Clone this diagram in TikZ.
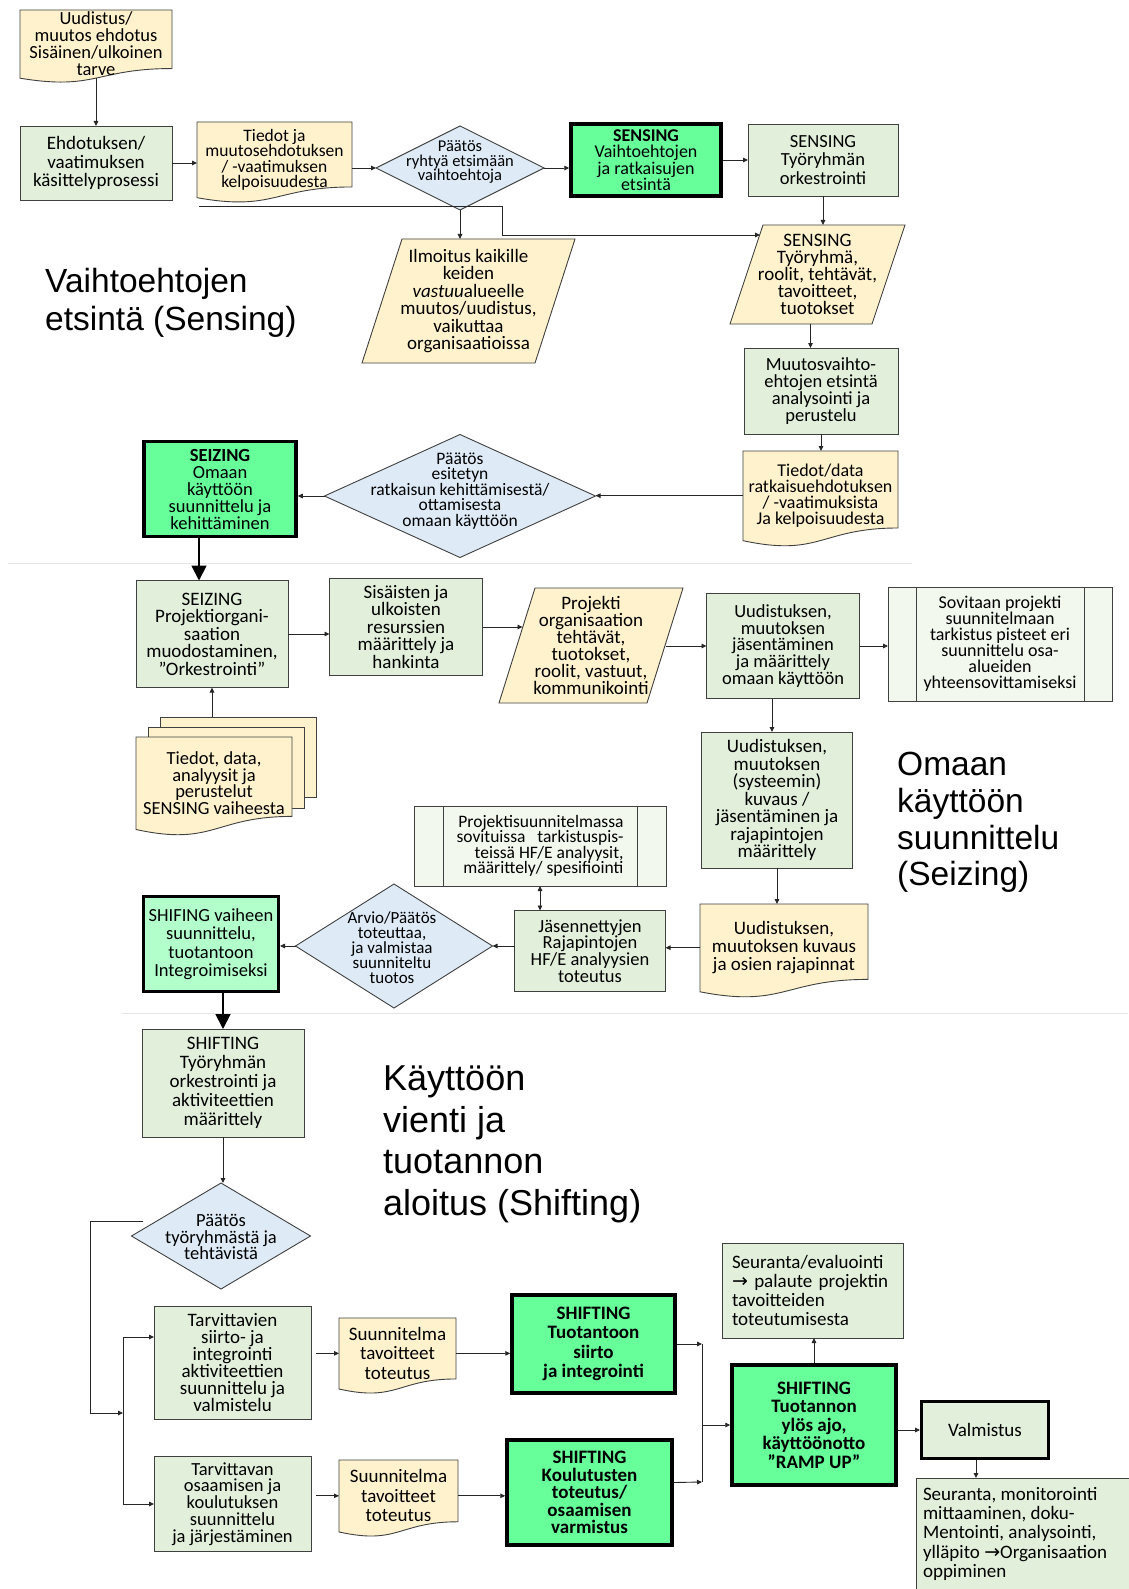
\documentclass[tikz,border=0pt]{standalone}
\usepackage{fontspec}
\setmainfont{Carlito}
\newfontfamily\lblfont{Liberation Sans}
\newfontfamily\arrowfnt{DejaVu Sans}
\usetikzlibrary{arrows.meta,shapes.geometric,calc}
\definecolor{gbox}{HTML}{E2EFDA}
\definecolor{ydoc}{HTML}{FFF2CC}
\definecolor{bdia}{HTML}{DEEBF7}
\definecolor{bgreen}{HTML}{66FF99}
\definecolor{lgreen}{HTML}{B3FFCC}
\definecolor{ppfill}{HTML}{F2F8EE}
\definecolor{edge}{HTML}{404040}
\definecolor{lnk}{HTML}{262626}
\definecolor{sepc}{HTML}{E6E6E6}
\tikzset{
 fsz/.style 2 args={font=\fontsize{#1}{#2}\selectfont},
 bfsz/.style 2 args={font=\fontsize{#1}{#2}\selectfont\bfseries},
 txt/.style={align=center, inner sep=0pt, outer sep=0pt, fsz={19}{17.5}},
 box/.style={txt, draw=edge, fill=gbox, line width=0.9pt},
 bbox/.style={txt, draw=black, fill=bgreen, line width=3.5pt, outer sep=1.75pt},
 ppbox/.style={txt, draw=edge, fill=ppfill, line width=0.9pt},
 dia/.style={diamond, draw=edge, fill=bdia, line width=0.9pt, inner sep=0pt, outer sep=0pt},
 docshape/.style={draw=edge, fill=ydoc, line width=0.9pt},
 innerline/.style={draw=edge, line width=0.9pt},
 arr/.style={draw=lnk, line width=0.9pt, -{Triangle[length=5pt,width=4.5pt]}},
 darr/.style={draw=lnk, line width=0.9pt, {Triangle[length=5pt,width=4.5pt]}-{Triangle[length=5pt,width=4.5pt]}},
 plain/.style={draw=lnk, line width=0.9pt},
 bigarr/.style={draw=black, line width=1.8pt, -{Triangle[length=15pt,width=15pt]}},
 sep/.style={draw=sepc, line width=1pt},
 lbl/.style={font=\lblfont\fontsize{33.5}{37.5}\selectfont, align=left, inner sep=0pt, anchor=north west},
}
% document shape: [opts]{name}{x1}{y1}{x2}{y2}{text}
\newcommand{\docnode}[7][]{%
  \pgfmathsetmacro{\dw}{#5-#3}%
  \pgfmathsetmacro{\dh}{0.93*(#6-#4)}%
  \path[docshape] (#3,#4) -- (#5,#4) -- (#5,{#4+0.802*(#6-#4)})
    .. controls ({0.5*(#3+#5)},{#4+0.802*(#6-#4)}) and ({0.5*(#3+#5)},{#4+1.107*(#6-#4)}) ..
    (#3,{#4+0.934*(#6-#4)}) -- cycle;
  \node[txt, minimum width=\dw pt, minimum height=\dh pt, #1] (#2) at ({0.5*(#3+#5)},{#4+0.465*(#6-#4)}) {#7};}
% parallelogram: [opts]{name}{x1}{y1}{x2}{y2}{slant}{text}
\newcommand{\paranode}[8][]{%
  \pgfmathsetmacro{\pw}{#5-#3-#7}%
  \pgfmathsetmacro{\ph}{#6-#4}%
  \path[docshape] ({#3+#7},#4) -- (#5,#4) -- ({#5-#7},#6) -- (#3,#6) -- cycle;
  \node[txt, minimum width=\pw pt, minimum height=\ph pt, #1] (#2) at ({0.5*(#3+#5)},{0.5*(#4+#6)}) {#8};}
\begin{document}
\begin{tikzpicture}[x=1pt,y=-1pt]
\useasboundingbox (0,0) rectangle (1128,1589);
\fill[white] (0,0) rectangle (1128,1589);

% ---------------- SENSING ----------------
\docnode[fsz={18.5}{17}]{d1}{20}{10}{172}{83}{Uudistus/\\muutos ehdotus\\Sisäinen/ulkoinen\\tarve}
\node[box, minimum width=152pt, minimum height=74pt, fsz={19}{18.5}] (b2) at (96,163) {Ehdotuksen/\\vaatimuksen\\käsittelyprosessi};
\draw[arr] (d1.south) -- (b2.north);

\docnode[fsz={17.5}{15.5}]{d3}{197}{122}{352}{203}{Tiedot ja\\muutosehdotuksen\\/ -vaatimuksen\\kelpoisuudesta}
\draw[arr] (b2.east) -- (b2.east -| d3.west);

\node[dia, minimum width=168pt, minimum height=84pt] (p1) at (460,168) {};
\node[txt, fsz={16.5}{14.5}] (p1t) at (460,162) {Päätös\\ryhtyä etsimään\\vaihtoehtoja};
\draw[arr] (d3.east |- p1.west) -- (p1.west);

\node[bbox, minimum width=150pt, minimum height=72pt, fsz={18}{16.5}] (sb) at (646,160) {\textbf{SENSING}\\Vaihtoehtojen\\ja ratkaisujen\\etsintä};
\draw[arr] (p1.east) -- (p1.east -| sb.west);

\node[box, minimum width=150pt, minimum height=72pt, fsz={18.5}{18.5}] (so) at (823,160) {SENSING\\Työryhmän\\orkestrointi};
\draw[arr] (sb.east) -- (so.west);

\paranode[fsz={19}{17}]{ps}{730}{225}{905}{324}{33}{SENSING\\Työryhmä,\\roolit, tehtävät,\\tavoitteet,\\tuotokset}
\draw[arr] (so.south) -- (so.south |- ps.north);

\coordinate (c1) at (199,206);
\coordinate (c1e) at (760,235);
\draw[arr] (c1) -- (502,206) -- (502,235) -- (c1e);

\paranode[fsz={19}{17.5}]{pi}{362}{239}{575}{363}{40}{Ilmoitus kaikille\\keiden\\\textit{vastuu}alueelle\\muutos/uudistus,\\vaikuttaa\\organisaatioissa}
\draw[arr] (p1.south) -- (p1.south |- pi.north);

\node[lbl, font=\lblfont\fontsize{33.5}{38}\selectfont] (l1) at (45,268) {Vaihtoehtojen\\etsintä (Sensing)};

\node[box, minimum width=154pt, minimum height=86pt, fsz={18.5}{16.8}] (mv) at (821,391) {Muutosvaihto-\\ehtojen etsintä\\analysointi ja\\perustelu};
\draw[arr] ([xshift=-7pt]ps.south) -- ([xshift=-7pt]ps.south |- mv.north);

\docnode[fsz={18}{16}]{t2}{743}{451}{898}{547}{Tiedot/data\\ratkaisuehdotuksen\\/ -vaatimuksista\\Ja kelpoisuudesta}
\draw[arr] (mv.south) -- (mv.south |- t2.north);

\node[dia, minimum width=271pt, minimum height=123pt] (p2) at (460,496) {};
\node[txt, fsz={17.5}{15.5}] (p2t) at (460,491) {Päätös\\esitetyn\\ratkaisun kehittämisestä/\\ottamisesta\\omaan käyttöön};
\draw[arr] (t2.west) -- (t2.west -| p2.east);

\node[bbox, minimum width=152pt, minimum height=95pt, fsz={18.5}{17}] (sz) at (220,489) {\textbf{SEIZING}\\Omaan\\käyttöön\\suunnittelu ja\\kehittäminen};
\draw[arr] (p2.west) -- (p2.west -| sz.east);

\draw[sep] (8,563) -- (912,563);

% ---------------- SEIZING ----------------
\node[box, minimum width=152pt, minimum height=107pt, fsz={19}{17.5}] (s2) at (212,634) {SEIZING\\Projektiorgani-\\saation\\muodostaminen,\\”Orkestrointi”};
\draw[bigarr] ([xshift=-21pt]sz.south) -- ([xshift=-21pt]sz.south |- s2.north);

\node[box, minimum width=153pt, minimum height=97pt, fsz={19}{17.5}] (rs) at (406,627) {Sisäisten ja\\ulkoisten\\resurssien\\määrittely ja\\hankinta};
\draw[arr] (s2.east) -- (s2.east -| rs.west);

\paranode[fsz={19}{17}]{pp}{499}{588}{683}{703}{36}{Projekti\\organisaation\\tehtävät,\\tuotokset,\\roolit, vastuut,\\kommunikointi}
\draw[arr] (rs.east) -- ($(rs.east)+(40,0)$);

\node[box, minimum width=153pt, minimum height=105pt, fsz={18.5}{16.8}] (u1) at (783,646) {Uudistuksen,\\muutoksen\\jäsentäminen\\ja määrittely\\omaan käyttöön};
\draw[arr] ($(u1.west)+(-41,0)$) -- (u1.west);

\node[ppbox, minimum width=224pt, minimum height=114pt, fsz={18}{16}] (sv) at (1000,644) {Sovitaan projekti\\suunnitelmaan\\tarkistus pisteet eri\\suunnittelu osa-\\alueiden\\yhteensovittamiseksi};
\draw[innerline] ([xshift=28pt]sv.north west) -- ([xshift=28pt]sv.south west);
\draw[innerline] ([xshift=-28pt]sv.north east) -- ([xshift=-28pt]sv.south east);
\draw[arr] (u1.east) -- (u1.east -| sv.west);

\node[box, minimum width=151pt, minimum height=136pt, fsz={19}{17.5}] (u2) at (777,800) {Uudistuksen,\\muutoksen\\(systeemin)\\kuvaus /\\jäsentäminen ja\\rajapintojen\\määrittely};
\draw[arr] ([xshift=-11pt]u1.south) -- ([xshift=-11pt]u1.south |- u2.north);

\docnode[fsz={19}{18}]{u3}{700}{904}{868}{998}{Uudistuksen,\\muutoksen kuvaus\\ja osien rajapinnat}
\draw[arr] (u2.south) -- (u2.south |- u3.north);

\node[box, minimum width=151pt, minimum height=81pt, fsz={18.5}{16.8}] (js) at (590,951) {Jäsennettyjen\\Rajapintojen\\HF/E analyysien\\toteutus};
\draw[arr] (u3.west) -- (u3.west -| js.east);

\node[ppbox, align=right, minimum width=252pt, minimum height=80pt, fsz={17.5}{15.5}] (pr) at (540,846) {Projektisuunnitelmassa\\sovituissa\ \ \ tarkistuspis-\\teissä HF/E analyysit,\\määrittely/ spesifiointi};
\draw[innerline] ([xshift=29pt]pr.north west) -- ([xshift=29pt]pr.south west);
\draw[innerline] ([xshift=-29pt]pr.north east) -- ([xshift=-29pt]pr.south east);
\draw[darr] (pr.south) -- (pr.south |- js.north);

\node[dia, minimum width=197pt, minimum height=124pt] (p3) at (394,946) {};
\node[txt, fsz={17}{15}] (p3t) at (392,948) {Arvio/Päätös\\toteuttaa,\\ja valmistaa\\suunniteltu\\tuotos};
\draw[arr] (js.west |- p3.east) -- (p3.east);

\node[box, fill=lgreen, draw=black, line width=3pt, outer sep=1.5pt, minimum width=135pt, minimum height=95pt, fsz={18.5}{18.5}] (sf) at (211,944) {SHIFING vaiheen\\suunnittelu,\\tuotantoon\\Integroimiseksi};
\draw[arr] (p3.west) -- (p3.west -| sf.east);

\node[draw=edge, fill=ydoc, line width=0.9pt, inner sep=0pt, minimum width=156pt, minimum height=80pt] (stkb) at (238,757) {};
\node[draw=edge, fill=ydoc, line width=0.9pt, inner sep=0pt, minimum width=156pt, minimum height=81pt] (stkm) at (226,767.5) {};
\docnode[fsz={18.5}{16.5}]{stk}{136}{737}{292}{836}{Tiedot, data,\\analyysit ja\\perustelut\\SENSING vaiheesta}
\draw[arr] (stkb.north -| s2.south) -- (s2.south);

\node[lbl, font=\lblfont\fontsize{33.5}{36.7}\selectfont] (l2) at (897,752) {Omaan\\käyttöön\\suunnittelu\\(Seizing)};

\draw[sep] (122,1013) -- (1128,1013);

% ---------------- SHIFTING ----------------
\node[box, minimum width=162pt, minimum height=108pt, fsz={19}{19}] (h0) at (223,1083) {SHIFTING\\Työryhmän\\orkestrointi ja\\aktiviteettien\\määrittely};
\draw[bigarr] ([xshift=12pt]sf.south) -- ([xshift=12pt]sf.south |- h0.north);

\node[lbl, font=\lblfont\fontsize{36}{41.5}\selectfont] (l3) at (383,1066) {Käyttöön\\vienti ja\\tuotannon\\aloitus (Shifting)};

\node[dia, minimum width=179pt, minimum height=106pt] (p4) at (221,1236) {};
\node[txt, fsz={18.5}{16.5}] (p4t) at (221,1237) {Päätös\\työryhmästä ja\\tehtävistä};
\draw[arr] (h0.south) -- (h0.south |- p4.north);

\coordinate (c2) at (143,1221);
\coordinate (j0) at (123,1413);
\draw[arr] (c2) -- (90,1221) -- (90,1413) -- (j0);

\node[box, minimum width=157pt, minimum height=113pt, fsz={19}{17}] (ta1) at (232.5,1362.5) {Tarvittavien\\siirto- ja\\integrointi\\aktiviteettien\\suunnittelu ja\\valmistelu};
\node[box, minimum width=157pt, minimum height=95pt, fsz={18.5}{16.8}] (ta2) at (232.5,1504) {Tarvittavan\\osaamisen ja\\koulutuksen\\suunnittelu\\ja järjestäminen};
\draw[arr] (j0) |- ([yshift=25.5pt]ta1.west);
\draw[arr] (j0) |- (ta2.west);

\docnode[fsz={19}{19.5}]{su1}{339}{1318}{456}{1394}{Suunnitelma\\tavoitteet\\toteutus}
\docnode[fsz={19}{19.5}]{su2}{339}{1460}{458}{1537}{Suunnitelma\\tavoitteet\\toteutus}
\draw[arr] ([xshift=5pt]ta1.east |- su1.west) -- (su1.west);
\draw[arr] ([xshift=5pt]ta2.east |- su2.west) -- (su2.west);

\node[bbox, bfsz={19}{19.5}, minimum width=163pt, minimum height=98pt] (h1) at (593.5,1344) {SHIFTING\\Tuotantoon\\siirto\\ja integrointi};
\draw[arr] (su1.east) -- (su1.east -| h1.west);
\node[bbox, bfsz={19}{17.5}, minimum width=165pt, minimum height=105pt] (h2) at (589.5,1492.5) {SHIFTING\\Koulutusten\\toteutus/\\osaamisen\\varmistus};
\draw[arr] (su2.east) -- (su2.east -| h2.west);

\node[bbox, bfsz={19}{18.5}, minimum width=164pt, minimum height=120pt] (rp) at (814,1425) {SHIFTING\\Tuotannon\\ylös ajo,\\käyttöönotto\\”RAMP UP”};
\coordinate (jt) at (702,1344);
\coordinate (jb) at (702,1482);
\draw[arr] (h1.east) -- (jt);
\draw[arr] ([yshift=10pt]h2.east) -- (jb);
\draw[plain] (jt) -- (jb);
\draw[arr] (jt |- rp.west) -- (rp.west);

\node[box, align=left, text width=161pt, inner xsep=10pt, minimum height=95pt, fsz={19}{19}] (se1) at (812.5,1290.5) {Seuranta/evaluointi\\{\arrowfnt →} palaute projektin\\tavoitteiden\\toteutumisesta};
\draw[arr] (rp.north) -- (rp.north |- se1.south);

\node[box, draw=black, line width=3pt, outer sep=1.5pt, minimum width=127pt, minimum height=57pt, fsz={19}{19}] (vm) at (985,1430) {Valmistus};
\draw[arr] (rp.east |- vm.west) -- (vm.west);

\node[box, anchor=north west, minimum width=222pt, minimum height=130pt] (se2) at (916,1478) {};
\node[txt, anchor=north west, align=left, fsz={19}{19.3}] (se2t) at (923,1487) {Seuranta, monitorointi\\mittaaminen, doku-\\Mentointi, analysointi,\\ylläpito {\arrowfnt →}Organisaation\\oppiminen};
\draw[arr] ([xshift=-9pt]vm.south) -- ([xshift=-9pt]vm.south |- se2.north);
\end{tikzpicture}
\end{document}
